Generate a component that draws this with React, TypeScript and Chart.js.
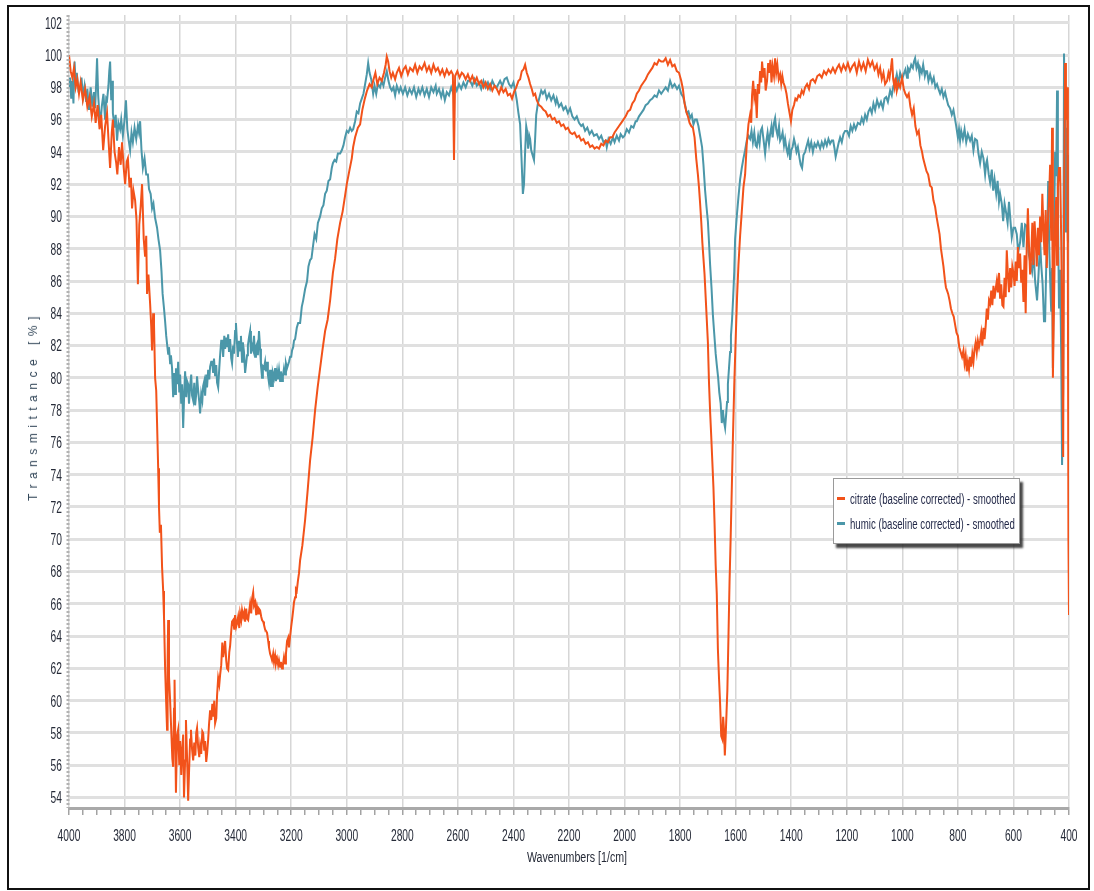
import { useEffect, useRef } from "react";
import { Chart, registerables } from "chart.js";

Chart.register(...registerables);

// FTIR spectra: wavenumber (1/cm) and transmittance (%)
const citrateWavenumbers = [
  4000, 3994, 3988, 3982, 3976, 3970, 3964, 3958, 3950, 3942, 3934, 3926, 3918, 3910, 3904, 3897, 3890, 3884, 3877, 3870,
  3863, 3857, 3852, 3846, 3842, 3836, 3830, 3826, 3820, 3814, 3809, 3803, 3798, 3792, 3788, 3782, 3777, 3773, 3768, 3762,
  3757, 3752, 3747, 3742, 3737, 3731, 3726, 3722, 3719, 3714, 3708, 3704, 3701, 3697, 3694, 3690, 3686, 3683, 3679, 3676,
  3673, 3669, 3665, 3661, 3658, 3654, 3650, 3647, 3645, 3643, 3640, 3636, 3632, 3628, 3625, 3622, 3620, 3617, 3615, 3611,
  3607, 3603, 3600, 3596, 3593, 3589, 3586, 3582, 3579, 3575, 3571, 3568, 3564, 3561, 3557, 3553, 3549, 3545, 3542, 3539,
  3535, 3531, 3528, 3524, 3520, 3517, 3513, 3510, 3506, 3503, 3499, 3496, 3492, 3488, 3484, 3481, 3477, 3474, 3470, 3467,
  3463, 3459, 3456, 3452, 3448, 3445, 3441, 3438, 3434, 3431, 3427, 3423, 3420, 3416, 3413, 3409, 3405, 3402, 3398, 3395,
  3391, 3387, 3384, 3380, 3377, 3373, 3369, 3366, 3362, 3359, 3355, 3351, 3348, 3344, 3341, 3337, 3334, 3330, 3326, 3323,
  3319, 3316, 3312, 3308, 3305, 3301, 3298, 3294, 3290, 3287, 3283, 3280, 3276, 3272, 3269, 3265, 3262, 3258, 3255, 3251,
  3247, 3244, 3240, 3237, 3233, 3230, 3226, 3222, 3219, 3215, 3211, 3208, 3204, 3200, 3197, 3193, 3190, 3186, 3183, 3180,
  3176, 3172, 3168, 3160, 3150, 3141, 3132, 3123, 3114, 3105, 3096, 3087, 3078, 3069, 3060, 3050, 3042, 3034, 3024, 3015,
  3006, 3000, 2990, 2982, 2977, 2970, 2960, 2952, 2944, 2935, 2927, 2918, 2910, 2905, 2897, 2890, 2882, 2874, 2866, 2860,
  2856, 2851, 2846, 2840, 2834, 2826, 2820, 2812, 2804, 2796, 2788, 2780, 2772, 2762, 2754, 2746, 2738, 2730, 2720, 2712,
  2704, 2696, 2688, 2680, 2672, 2664, 2656, 2648, 2640, 2632, 2624, 2618, 2614, 2610, 2602, 2594, 2586, 2580, 2572, 2564,
  2556, 2548, 2540, 2532, 2524, 2516, 2508, 2500, 2492, 2484, 2476, 2468, 2460, 2452, 2444, 2436, 2428, 2420, 2412, 2405,
  2398, 2390, 2382, 2376, 2370, 2364, 2358, 2352, 2346, 2340, 2334, 2328, 2322, 2316, 2308, 2300, 2292, 2284, 2276, 2268,
  2260, 2252, 2244, 2236, 2228, 2220, 2212, 2204, 2196, 2188, 2180, 2172, 2164, 2156, 2148, 2140, 2132, 2124, 2116, 2108,
  2100, 2092, 2084, 2076, 2068, 2060, 2052, 2044, 2036, 2028, 2020, 2012, 2004, 1996, 1988, 1980, 1972, 1964, 1956, 1948,
  1940, 1932, 1924, 1916, 1908, 1900, 1892, 1884, 1876, 1868, 1860, 1852, 1844, 1836, 1828, 1820, 1812, 1804, 1796, 1790,
  1784, 1778, 1772, 1766, 1760, 1754, 1748, 1742, 1736, 1732, 1728, 1724, 1720, 1716, 1712, 1708, 1704, 1700, 1696, 1692,
  1688, 1684, 1680, 1676, 1672, 1668, 1664, 1660, 1656, 1652, 1648, 1645, 1642, 1639, 1636, 1633, 1630, 1626, 1622, 1618,
  1614, 1610, 1605, 1600, 1595, 1590, 1584, 1578, 1572, 1566, 1560, 1554, 1548, 1544, 1541, 1537, 1533, 1529, 1524, 1520,
  1516, 1512, 1508, 1505, 1500, 1496, 1492, 1487, 1483, 1479, 1475, 1471, 1467, 1462, 1458, 1454, 1450, 1445, 1440, 1436,
  1432, 1428, 1422, 1417, 1412, 1406, 1401, 1396, 1390, 1385, 1380, 1374, 1368, 1362, 1356, 1350, 1343, 1336, 1330, 1322,
  1314, 1306, 1298, 1290, 1282, 1274, 1266, 1258, 1250, 1242, 1235, 1228, 1220, 1212, 1204, 1196, 1188, 1180, 1172, 1164,
  1156, 1148, 1140, 1132, 1124, 1116, 1108, 1100, 1092, 1086, 1080, 1074, 1068, 1062, 1055, 1050, 1046, 1041, 1037, 1033,
  1028, 1024, 1020, 1014, 1008, 1001, 995, 989, 983, 977, 971, 965, 959, 953, 947, 941, 935, 929, 925, 919,
  913, 907, 900, 894, 888, 882, 877, 871, 866, 861, 856, 852, 847, 843, 839, 835, 830, 825, 820, 815,
  810, 805, 800, 795, 790, 785, 780, 776, 772, 768, 764, 760, 756, 752, 748, 744, 740, 736, 732, 728,
  724, 720, 716, 712, 708, 704, 700, 696, 692, 688, 684, 680, 676, 672, 668, 664, 660, 656, 652, 648,
  644, 640, 636, 632, 628, 624, 620, 616, 612, 608, 604, 600, 596, 592, 588, 584, 580, 576, 572, 568,
  564, 560, 556, 552, 548, 544, 540, 536, 532, 528, 524, 520, 516, 512, 508, 504, 500, 496, 492, 488,
  484, 480, 476, 472, 468, 464, 461, 458, 454, 450, 446, 443, 440, 436, 432, 428, 425, 421, 418, 414,
  411, 407, 404, 402, 400,
];
const citrateValues = [
  100.0, 99.0, 98.6, 99.2, 98.0, 98.5, 97.6, 98.3, 97.2, 97.9, 96.8, 97.4, 96.2, 97.0, 95.8, 96.9, 95.4, 96.3, 94.1, 95.6,
  96.4, 94.5, 93.0, 95.2, 96.0, 94.0, 93.3, 92.6, 94.3, 93.2, 94.6, 93.0, 92.0, 93.4, 93.6, 91.8, 92.4, 90.5, 91.6, 91.0,
  89.8, 85.8, 89.5, 90.6, 92.0, 88.6, 87.5, 88.8, 85.2, 86.4, 84.6, 83.2, 81.7, 84.0, 83.3, 80.0, 79.2, 77.2, 74.4, 72.0,
  70.4, 70.9, 68.3, 66.8, 65.2, 62.0, 59.8, 58.2, 62.5, 65.0, 61.5, 60.0, 58.2, 56.4, 55.9, 59.5, 61.3, 57.2, 54.3, 57.8,
  58.2, 56.0, 57.5, 55.4, 56.8, 57.9, 54.0, 56.3, 58.8, 56.5, 53.8, 55.5, 57.6, 58.2, 57.0, 56.3, 57.4, 56.6, 58.0, 58.3,
  57.1, 56.5, 57.2, 56.7, 58.1, 58.0, 56.9, 57.5, 56.2, 56.7, 57.6, 58.5, 59.4, 58.8, 59.8, 59.0, 60.0, 58.6, 58.9, 60.3,
  61.4, 61.0, 61.6, 62.2, 63.6, 62.7, 63.2, 63.7, 62.5, 62.0, 61.9, 63.0, 63.4, 64.3, 64.9, 65.0, 64.4, 65.3, 64.6, 64.8,
  65.2, 64.5, 65.4, 65.0, 65.6, 65.2, 65.5, 64.9, 65.7, 65.1, 65.0, 65.6, 66.0, 65.4, 66.3, 66.7, 65.9, 66.1, 65.3, 65.8,
  65.4, 65.7, 65.6, 65.2, 65.0, 64.9, 64.7, 64.4, 64.3, 64.2, 63.7, 63.3, 62.9, 62.7, 62.5, 62.9, 62.4, 62.8, 62.3, 62.6,
  62.2, 62.5, 62.1, 62.4, 62.0, 62.2, 62.7, 62.3, 62.9, 63.7, 63.9, 63.3, 64.0, 64.6, 65.0, 65.6, 66.1, 66.4, 66.9, 66.8,
  67.4, 67.9, 68.7, 69.6, 71.2, 73.0, 74.9, 76.3, 78.0, 79.4, 80.6, 81.8, 82.9, 83.6, 84.8, 86.5, 87.4, 88.6, 89.6, 90.3,
  91.3, 92.0, 92.9, 93.6, 94.3, 94.9, 95.5, 95.7, 96.6, 97.3, 97.8, 98.2, 98.0, 98.4, 98.9, 98.2, 98.6, 98.4, 98.9, 99.4,
  99.9, 99.6, 99.0, 98.6, 98.9, 98.5, 98.9, 99.2, 98.7, 99.1, 99.3, 98.8, 99.2, 99.0, 99.4, 98.9, 99.3, 99.1, 99.5, 99.0,
  99.3, 98.9, 99.4, 99.0, 99.2, 98.8, 99.1, 98.7, 99.1, 98.8, 99.0, 98.8, 93.5, 98.7, 99.0, 98.6, 98.9, 98.8, 98.5, 98.8,
  98.4, 98.7, 98.3, 98.6, 98.2, 98.4, 98.0, 98.3, 97.9, 98.2, 97.8, 98.1, 97.9, 97.6, 98.0, 97.7, 97.9, 97.5, 97.6, 97.3,
  97.7, 98.0, 98.4, 98.5, 99.0, 99.1, 99.4, 98.9, 98.6, 98.2, 97.9, 97.5, 97.6, 97.2, 96.9, 96.8, 96.6, 96.5, 96.2, 96.3,
  96.0, 96.1, 95.8, 95.9, 95.6, 95.7, 95.4, 95.5, 95.2, 95.1, 95.2, 94.9, 95.0, 94.7, 94.8, 94.5, 94.6, 94.3, 94.4, 94.2,
  94.3, 94.2, 94.5, 94.4, 94.7, 94.6, 94.9, 94.9, 95.2, 95.4, 95.6, 95.8, 96.0, 96.2, 96.5, 96.6, 97.0, 97.2, 97.6, 97.8,
  98.1, 98.3, 98.5, 98.8, 99.0, 99.2, 99.5, 99.4, 99.7, 99.6, 99.6, 99.8, 99.4, 99.7, 99.3, 99.4, 99.0, 98.9, 98.4, 97.9,
  97.0, 96.5, 96.2, 95.8, 95.6, 95.5, 94.9, 93.6, 92.6, 91.8, 90.8, 89.7, 88.4, 87.4, 86.4, 85.0, 83.6, 82.2, 79.7, 77.9,
  76.4, 74.8, 73.2, 71.0, 68.4, 66.6, 63.2, 61.4, 59.8, 57.8, 57.6, 59.0, 58.2, 56.6, 57.8, 59.2, 60.6, 63.9, 67.4, 70.1,
  73.1, 76.2, 79.6, 82.4, 85.0, 87.0, 88.8, 90.3, 91.8, 92.6, 94.5, 95.7, 96.3, 95.8, 97.5, 98.4, 97.4, 97.9, 96.1, 98.2,
  97.6, 99.0, 98.3, 99.6, 98.6, 99.2, 97.8, 98.4, 99.5, 98.9, 99.7, 98.3, 99.3, 98.7, 99.8, 98.9, 99.4, 98.5, 98.8, 98.2,
  98.7, 98.3, 98.0, 97.6, 97.0, 96.4, 95.9, 96.6, 96.9, 97.3, 97.2, 97.5, 97.4, 97.8, 97.6, 98.0, 98.2, 97.9, 98.4, 98.5,
  98.3, 98.7, 98.8, 98.6, 99.0, 98.8, 99.1, 98.9, 99.2, 98.9, 99.2, 99.4, 99.0, 99.4, 99.1, 99.5, 99.0, 99.3, 99.5, 98.9,
  99.6, 99.1, 99.5, 99.0, 99.7, 99.3, 99.6, 99.1, 99.4, 98.8, 99.2, 98.5, 98.9, 98.2, 98.4, 98.9, 98.6, 99.2, 99.8, 98.5,
  98.0, 98.6, 97.8, 98.3, 98.0, 98.6, 97.9, 97.6, 97.4, 97.6, 96.8, 96.3, 96.7, 95.6, 95.1, 95.3, 94.4, 94.0, 93.6, 93.2,
  92.8, 92.6, 91.9, 91.8, 91.0, 90.6, 90.0, 89.4, 88.9, 88.0, 87.4, 86.9, 86.1, 85.6, 85.4, 85.2, 84.8, 84.3, 84.0, 83.8,
  83.3, 82.8, 82.6, 81.9, 81.6, 81.3, 81.7, 80.9, 81.4, 80.4, 81.0, 80.5, 81.3, 80.7, 81.5, 81.0, 81.8, 82.2, 81.6, 82.3,
  81.9, 82.3, 82.8, 82.0, 83.1, 82.4, 83.2, 84.3, 83.6, 84.8, 84.6, 85.4, 84.5, 85.7, 84.9, 85.5, 86.0, 85.3, 86.5, 84.9,
  85.8, 84.5, 84.4, 86.2, 85.0, 87.9, 86.4, 85.3, 86.8, 85.6, 86.9, 86.5, 85.7, 87.2, 86.0, 88.1, 86.8, 87.7, 85.9, 86.7,
  84.7, 87.6, 84.0, 88.3, 90.5, 88.2, 86.4, 87.5, 89.6, 87.0, 89.7, 88.5, 86.9, 89.3, 87.6, 90.0, 88.4, 91.4, 89.2, 87.6,
  90.4, 86.8, 89.6, 91.0, 93.2, 88.5, 95.5, 80.0, 84.5, 89.6, 91.2, 87.0, 91.8, 93.0, 93.0, 88.5, 84.0, 75.1, 90.0, 99.5,
  96.0, 98.0, 86.0, 70.0, 65.3,
];

const humicWavenumbers = [
  4000, 3996, 3992, 3988, 3984, 3980, 3976, 3972, 3966, 3960, 3955, 3950, 3944, 3938, 3934, 3928, 3922, 3916, 3910, 3906,
  3902, 3899, 3895, 3890, 3888, 3882, 3876, 3870, 3866, 3863, 3858, 3855, 3852, 3848, 3844, 3842, 3836, 3832, 3827, 3822,
  3816, 3812, 3806, 3800, 3795, 3790, 3785, 3780, 3775, 3770, 3764, 3758, 3752, 3748, 3744, 3739, 3734, 3728, 3722, 3716,
  3712, 3706, 3701, 3696, 3690, 3683, 3678, 3672, 3667, 3663, 3658, 3654, 3650, 3647, 3643, 3640, 3636, 3633, 3629, 3625,
  3622, 3618, 3615, 3611, 3607, 3603, 3600, 3596, 3593, 3589, 3585, 3582, 3578, 3575, 3571, 3568, 3564, 3560, 3557, 3553,
  3549, 3546, 3542, 3539, 3535, 3531, 3528, 3524, 3520, 3517, 3513, 3510, 3506, 3503, 3499, 3495, 3492, 3488, 3485, 3481,
  3478, 3474, 3470, 3467, 3463, 3459, 3456, 3452, 3449, 3445, 3441, 3438, 3434, 3431, 3427, 3424, 3420, 3416, 3413, 3409,
  3406, 3402, 3399, 3395, 3392, 3388, 3384, 3381, 3377, 3374, 3370, 3366, 3363, 3359, 3356, 3352, 3348, 3345, 3341, 3338,
  3334, 3330, 3327, 3323, 3320, 3316, 3312, 3309, 3305, 3302, 3298, 3294, 3291, 3287, 3284, 3280, 3276, 3273, 3269, 3266,
  3262, 3258, 3255, 3251, 3248, 3244, 3240, 3237, 3233, 3230, 3226, 3222, 3219, 3215, 3212, 3208, 3204, 3200, 3197, 3193,
  3190, 3186, 3180, 3175, 3168, 3162, 3157, 3150, 3143, 3138, 3132, 3127, 3122, 3116, 3110, 3104, 3096, 3090, 3084, 3078,
  3072, 3066, 3060, 3054, 3050, 3044, 3038, 3032, 3024, 3018, 3012, 3006, 3000, 2994, 2988, 2982, 2977, 2970, 2964, 2958,
  2952, 2946, 2940, 2934, 2928, 2923, 2918, 2912, 2905, 2900, 2894, 2888, 2880, 2874, 2868, 2862, 2856, 2850, 2844, 2838,
  2832, 2826, 2820, 2812, 2806, 2798, 2790, 2782, 2774, 2766, 2758, 2750, 2742, 2736, 2728, 2720, 2712, 2704, 2696, 2688,
  2680, 2676, 2668, 2660, 2654, 2647, 2640, 2632, 2624, 2616, 2610, 2604, 2596, 2588, 2580, 2572, 2564, 2556, 2548, 2540,
  2532, 2524, 2516, 2508, 2500, 2492, 2484, 2476, 2468, 2460, 2448, 2440, 2432, 2424, 2416, 2408, 2400, 2394, 2388, 2382,
  2376, 2371, 2366, 2362, 2358, 2354, 2351, 2347, 2343, 2340, 2336, 2331, 2326, 2322, 2318, 2312, 2306, 2300, 2294, 2287,
  2280, 2272, 2264, 2256, 2248, 2244, 2236, 2228, 2220, 2212, 2204, 2196, 2188, 2180, 2172, 2164, 2156, 2150, 2142, 2134,
  2126, 2118, 2110, 2100, 2092, 2084, 2076, 2068, 2064, 2058, 2050, 2042, 2036, 2028, 2020, 2014, 2006, 2000, 1992, 1984,
  1976, 1968, 1960, 1956, 1948, 1940, 1932, 1924, 1916, 1908, 1900, 1892, 1884, 1876, 1868, 1860, 1852, 1844, 1836, 1828,
  1820, 1811, 1804, 1796, 1789, 1782, 1776, 1770, 1764, 1758, 1752, 1746, 1740, 1734, 1728, 1724, 1721, 1716, 1710, 1705,
  1700, 1696, 1692, 1687, 1682, 1677, 1672, 1668, 1663, 1659, 1654, 1650, 1646, 1642, 1638, 1634, 1631, 1628, 1624, 1620,
  1617, 1613, 1609, 1605, 1602, 1596, 1590, 1584, 1578, 1572, 1566, 1560, 1554, 1548, 1543, 1538, 1533, 1528, 1524, 1519,
  1514, 1510, 1505, 1500, 1494, 1490, 1485, 1480, 1476, 1471, 1467, 1462, 1458, 1454, 1449, 1444, 1440, 1435, 1431, 1426,
  1422, 1417, 1413, 1408, 1404, 1400, 1395, 1390, 1386, 1381, 1376, 1370, 1366, 1361, 1356, 1350, 1344, 1339, 1334, 1328,
  1322, 1316, 1310, 1304, 1296, 1290, 1284, 1278, 1272, 1266, 1260, 1254, 1249, 1244, 1240, 1235, 1230, 1224, 1218, 1212,
  1206, 1199, 1192, 1186, 1180, 1174, 1168, 1160, 1152, 1146, 1140, 1134, 1128, 1122, 1116, 1110, 1104, 1098, 1091, 1084,
  1077, 1070, 1064, 1058, 1052, 1044, 1038, 1032, 1026, 1020, 1014, 1008, 1001, 995, 989, 983, 980, 974, 968, 962,
  958, 954, 949, 944, 938, 936, 930, 925, 919, 915, 911, 906, 900, 893, 887, 881, 875, 870, 864, 858,
  852, 846, 841, 835, 828, 822, 816, 810, 806, 800, 796, 792, 788, 782, 776, 770, 764, 756, 750, 744,
  738, 731, 726, 720, 714, 708, 702, 698, 695, 689, 684, 678, 673, 668, 662, 657, 652, 648, 642, 637,
  632, 626, 621, 616, 612, 606, 600, 594, 588, 583, 576, 570, 564, 558, 551, 546, 540, 533, 528, 522,
  515, 510, 504, 500, 495, 490, 486, 482, 478, 475, 471, 467, 464, 461, 458, 454, 450, 446, 443, 440,
  436, 432, 428, 425, 421, 418, 414, 411, 407, 404, 400,
];
const humicValues = [
  98.0, 98.6, 97.3, 98.4, 97.0, 99.6, 98.2, 98.9, 97.8, 97.9, 98.6, 97.4, 98.1, 97.1, 97.9, 96.6, 98.0, 96.8, 97.7, 96.7,
  98.3, 99.8, 97.5, 96.2, 95.5, 96.8, 97.6, 96.0, 97.3, 97.2, 98.1, 99.0, 99.6, 97.2, 98.4, 96.4, 95.5, 96.3, 94.7, 95.8,
  95.4, 96.0, 95.0, 96.0, 97.2, 95.4, 94.7, 94.1, 95.2, 94.6, 95.5, 94.8, 95.6, 95.2, 95.9, 94.1, 93.0, 93.6, 92.6, 92.6,
  91.7, 91.4, 90.5, 90.8, 89.9, 89.3, 88.6, 87.9, 86.6, 85.2, 84.3, 83.5, 82.6, 82.1, 81.5, 81.9, 80.9, 81.4, 80.6, 78.8,
  80.3, 79.0, 80.6, 79.6, 81.0, 79.1, 80.2, 78.4, 79.6, 76.9, 79.2, 80.4, 78.8, 79.8, 79.6, 78.4, 79.5, 80.2, 78.9, 78.6,
  79.7, 78.3, 79.0, 80.1, 79.2, 78.5, 77.8, 79.0, 78.6, 79.5, 79.8, 78.9, 80.2, 79.4, 80.5, 79.9, 80.7, 81.0, 81.0, 80.3,
  81.2, 80.1, 80.8, 79.7, 79.4, 80.6, 81.4, 82.3, 82.3, 81.3, 82.6, 81.8, 82.5, 81.9, 82.7, 81.6, 82.4, 81.2, 80.9, 82.0,
  81.5, 82.9, 83.4, 82.1, 81.3, 82.3, 81.7, 82.6, 81.0, 82.2, 81.6, 80.3, 80.3, 81.4, 82.0, 82.5, 82.9, 81.5, 82.0, 81.8,
  82.6, 81.3, 81.9, 82.1, 81.4, 82.9, 81.8, 80.8, 80.0, 80.7, 80.6, 81.0, 80.4, 81.0, 80.2, 79.7, 80.5, 79.5, 79.5, 80.3,
  80.0, 80.6, 79.8, 80.4, 79.9, 80.5, 79.8, 80.4, 79.8, 80.1, 80.6, 80.2, 80.9, 80.6, 80.6, 81.0, 81.3, 81.3, 81.7, 81.9,
  82.3, 82.4, 83.1, 83.4, 83.4, 84.4, 84.8, 85.5, 86.0, 86.9, 87.3, 87.4, 88.1, 88.9, 88.6, 89.6, 90.0, 90.5, 90.7, 91.4,
  91.6, 92.2, 92.3, 93.0, 93.3, 93.5, 93.4, 93.9, 93.9, 94.1, 94.4, 94.9, 95.3, 95.2, 95.5, 95.3, 95.4, 95.9, 96.5, 96.4,
  97.0, 97.3, 97.6, 98.2, 98.8, 99.5, 98.9, 98.5, 97.6, 98.1, 97.6, 98.2, 98.0, 98.4, 98.1, 98.6, 99.0, 98.4, 98.0, 97.8,
  98.0, 97.5, 98.1, 97.7, 98.0, 97.6, 98.0, 97.5, 97.9, 97.6, 98.0, 97.4, 97.9, 97.6, 98.0, 97.5, 97.9, 97.4, 98.0, 97.7,
  98.1, 97.6, 97.9, 97.4, 97.8, 97.2, 97.7, 97.5, 98.0, 97.6, 98.1, 97.8, 98.2, 97.9, 98.3, 98.0, 98.4, 98.4, 98.1, 98.5,
  98.1, 98.3, 97.9, 98.4, 98.0, 98.3, 97.9, 98.4, 98.1, 98.0, 98.4, 98.1, 98.5, 98.6, 98.2, 98.0, 98.3, 97.8, 97.2, 96.4,
  95.7, 93.6, 91.4, 92.0, 94.0, 95.6, 95.3, 94.2, 95.0, 94.8, 94.1, 93.8, 93.5, 94.8, 96.3, 97.0, 97.4, 97.8, 97.6, 97.8,
  97.3, 97.6, 97.2, 97.5, 97.0, 97.3, 96.8, 97.0, 96.6, 96.8, 96.4, 96.7, 96.2, 96.0, 96.2, 95.8, 95.6, 95.7, 95.3, 95.5,
  95.1, 95.3, 95.0, 95.1, 94.8, 95.0, 94.6, 94.7, 94.3, 94.8, 94.5, 94.9, 94.6, 95.0, 94.7, 95.1, 94.9, 95.0, 95.4, 95.2,
  95.6, 95.5, 95.9, 95.9, 96.2, 96.4, 96.6, 96.9, 97.0, 97.2, 97.3, 97.5, 97.4, 97.8, 97.6, 97.8, 98.0, 97.8, 98.4, 98.0,
  98.2, 97.9, 98.1, 97.6, 97.4, 96.9, 96.4, 96.5, 96.1, 96.3, 95.7, 96.0, 96.0, 95.6, 95.0, 94.6, 94.3, 93.2, 91.6, 90.6,
  89.7, 88.4, 87.0, 85.6, 83.9, 82.7, 81.5, 80.8, 80.0, 79.1, 78.4, 77.2, 78.0, 77.3, 76.9, 77.8, 78.5, 79.6, 80.6, 81.6,
  82.6, 83.6, 85.0, 86.6, 88.6, 90.0, 91.2, 92.3, 93.0, 93.6, 94.1, 94.7, 95.0, 94.8, 95.3, 94.6, 95.2, 94.4, 94.3, 95.0,
  94.5, 95.3, 95.5, 94.8, 93.9, 94.6, 95.2, 94.5, 95.1, 95.6, 94.9, 95.8, 96.1, 95.4, 95.0, 95.6, 94.7, 94.9, 95.2, 94.4,
  94.8, 94.2, 93.9, 94.4, 93.5, 94.1, 94.3, 94.8, 94.5, 94.0, 94.3, 93.6, 93.2, 93.0, 93.8, 94.0, 94.4, 94.7, 94.2, 94.6,
  94.0, 94.5, 94.3, 94.6, 94.2, 94.6, 94.3, 94.7, 94.4, 94.8, 94.5, 94.7, 94.7, 94.2, 93.7, 94.1, 94.5, 94.9, 94.6, 95.1,
  95.3, 95.3, 95.0, 95.6, 95.3, 95.7, 95.4, 95.8, 95.7, 96.1, 95.8, 96.3, 96.0, 96.5, 96.7, 96.4, 97.0, 96.6, 97.2, 96.8,
  97.1, 96.7, 97.3, 97.4, 97.1, 97.8, 97.5, 98.1, 98.3, 98.8, 98.2, 98.9, 98.5, 98.8, 99.1, 98.6, 99.2, 99.0, 99.4, 99.2,
  99.6, 99.8, 99.2, 99.5, 98.8, 99.2, 98.9, 99.4, 98.7, 99.0, 99.0, 98.4, 98.8, 98.3, 98.6, 98.0, 98.2, 97.9, 97.6, 97.9,
  97.4, 97.7, 97.3, 96.9, 96.7, 96.3, 96.6, 96.0, 95.6, 94.9, 95.4, 94.7, 95.3, 94.8, 95.4, 94.6, 95.1, 94.7, 95.0, 94.1,
  94.8, 94.7, 93.9, 93.3, 94.0, 93.6, 92.6, 93.3, 93.5, 92.6, 92.1, 92.9, 91.6, 92.3, 91.4, 92.2, 90.9, 91.4, 90.8, 89.7,
  90.8, 90.2, 89.6, 90.9, 90.0, 88.7, 89.3, 89.3, 88.9, 87.8, 88.4, 89.6, 88.1, 89.5, 89.4, 87.8, 87.2, 86.6, 87.9, 86.0,
  84.8, 86.3, 88.5, 87.0, 85.8, 83.5, 83.5, 86.9, 88.8, 92.2, 88.0, 85.6, 84.1, 86.8, 80.6, 88.9, 94.0, 92.5, 97.8, 90.6,
  84.3, 86.7, 81.3, 74.6, 79.4, 100.1, 95.5, 89.0, 93.8, 88.5, 88.4,
];

const seriesLabels = [
  "citrate (baseline corrected) - smoothed",
  "humic (baseline corrected) - smoothed",
];
const seriesColors = ["#f2521a", "#4b97a9"];

const xTickLabels = [4000, 3800, 3600, 3400, 3200, 3000, 2800, 2600, 2400, 2200, 2000, 1800, 1600, 1400, 1200, 1000, 800, 600, 400];
const yTickLabels = [54, 56, 58, 60, 62, 64, 66, 68, 70, 72, 74, 76, 78, 80, 82, 84, 86, 88, 90, 92, 94, 96, 98, 100, 102];
const xAxisTitle = "Wavenumbers [1/cm]";
const yAxisTitle = "Transmittance [%]";

const sansFamily = '"Liberation Sans", Arial, sans-serif';
const textColor = "#262b38";

// Narrow-looking text: draw with a horizontal squeeze
function drawSqueezed(ctx: CanvasRenderingContext2D, text: string, x: number, y: number, sx: number) {
  ctx.save();
  ctx.translate(x, y);
  ctx.scale(sx, 1);
  ctx.fillText(text, 0, 0);
  ctx.restore();
}

// Tick labels, x title and the dotted y axis line
const axisDecorPlugin = {
  id: "axisDecor",
  afterDraw(chart: any) {
    const { ctx, chartArea, scales } = chart;
    const x = scales.x;
    const y = scales.y;
    ctx.save();

    ctx.setLineDash([2, 2]);
    ctx.strokeStyle = "#b3b3b3";
    ctx.lineWidth = 3;
    ctx.beginPath();
    ctx.moveTo(chartArea.left - 1, chartArea.top);
    ctx.lineTo(chartArea.left - 1, chartArea.bottom);
    ctx.stroke();
    ctx.setLineDash([]);

    ctx.fillStyle = textColor;
    ctx.textBaseline = "middle";
    ctx.font = `16px ${sansFamily}`;
    ctx.textAlign = "right";
    for (const v of yTickLabels) {
      drawSqueezed(ctx, String(v), chartArea.left - 7, y.getPixelForValue(v) + 1.5, 0.64);
    }
    ctx.textAlign = "center";
    for (const v of xTickLabels) {
      drawSqueezed(ctx, String(v), x.getPixelForValue(v), chartArea.bottom + 29, 0.64);
    }
    ctx.font = `14px ${sansFamily}`;
    drawSqueezed(ctx, xAxisTitle, (chartArea.left + chartArea.right) / 2 + 8, chartArea.bottom + 50, 0.76);
    ctx.restore();
  },
};

export default function App() {
  const canvasRef = useRef<HTMLCanvasElement>(null);

  useEffect(() => {
    const toPoints = (xs: number[], ys: number[]) => xs.map((x, i) => ({ x, y: ys[i] }));
    const chart = new Chart(canvasRef.current!, {
      type: "line",
      data: {
        datasets: [
          {
            label: seriesLabels[0],
            data: toPoints(citrateWavenumbers, citrateValues),
            borderColor: seriesColors[0],
            backgroundColor: seriesColors[0],
          },
          {
            label: seriesLabels[1],
            data: toPoints(humicWavenumbers, humicValues),
            borderColor: seriesColors[1],
            backgroundColor: seriesColors[1],
          },
        ],
      },
      options: {
        animation: false,
        responsive: false,
        events: [],
        layout: { padding: { left: 20, top: 15, right: 25, bottom: 0 } },
        elements: {
          point: { radius: 0 },
          line: { borderWidth: 2, tension: 0 },
        },
        plugins: {
          legend: { display: false },
          tooltip: { enabled: false },
        },
        scales: {
          x: {
            type: "linear",
            reverse: true,
            min: 400,
            max: 4000,
            afterFit: (s: any) => {
              s.height = 83;
            },
            ticks: {
              stepSize: 50,
              autoSkip: false,
              maxRotation: 0,
              display: false,
            },
            grid: {
              color: (ctx: any) =>
                ctx.tick && xTickLabels.includes(ctx.tick.value) ? "#d6d6d6" : "rgba(0,0,0,0)",
              tickColor: "#a3a3a3",
              tickLength: 7,
              lineWidth: 1.5,
            },
            border: { display: true, color: "#a9a9a9", width: 3 },
          },
          y: {
            type: "linear",
            min: 53.35,
            max: 102.48,
            afterFit: (s: any) => {
              s.width = 49;
            },
            afterBuildTicks: (s: any) => {
              s.ticks = yTickLabels.map((v) => ({ value: v }));
            },
            ticks: { display: false },
            grid: {
              color: "#e0e0e0",
              lineWidth: 3,
              drawTicks: false,
            },
            border: { display: false },
          },
        },
      },
      plugins: [axisDecorPlugin],
    });
    return () => chart.destroy();
  }, []);

  return (
    <div style={{ position: "absolute", left: 0, top: 0, width: 1094, height: 891, background: "#fff" }}>
      <div
        style={{
          position: "absolute",
          left: 7,
          top: 5,
          width: 1083,
          height: 885,
          border: "2px solid #111",
          boxSizing: "border-box",
        }}
      />
      <canvas
        ref={canvasRef}
        width={1094}
        height={891}
        style={{ position: "absolute", left: 0, top: 0, width: 1094, height: 891 }}
      />
      <div
        style={{
          position: "absolute",
          left: 33,
          top: 406,
          transform: "translate(-50%, -50%) rotate(-90deg)",
          whiteSpace: "nowrap",
          letterSpacing: "5.5px",
          font: `12px ${sansFamily}`,
          color: "#34485a",
        }}
      >
        {yAxisTitle}
      </div>
      <div
        style={{
          position: "absolute",
          left: 833,
          top: 478,
          width: 187,
          height: 66,
          boxSizing: "border-box",
          background: "#fff",
          border: "1px solid #9a9a9a",
          boxShadow: "3px 4px 2px rgba(40,40,40,0.85)",
          padding: "7px 0 0 3px",
        }}
      >
        {seriesLabels.map((label, i) => (
          <div
            key={label}
            style={{
              display: "flex",
              alignItems: "center",
              height: 25,
              font: `14px ${sansFamily}`,
              color: "#1f2545",
              whiteSpace: "nowrap",
            }}
          >
            <span
              style={{
                display: "inline-block",
                width: 8,
                height: 3,
                background: seriesColors[i],
                marginRight: 5,
                flex: "none",
              }}
            />
            <span style={{ display: "inline-block", transform: "scaleX(0.69)", transformOrigin: "left center" }}>
              {label}
            </span>
          </div>
        ))}
      </div>
    </div>
  );
}
